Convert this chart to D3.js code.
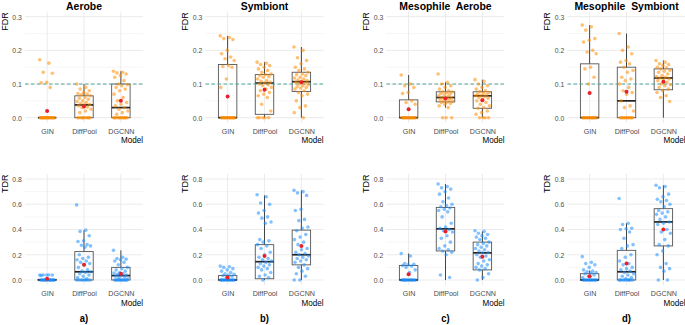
<!DOCTYPE html>
<html>
<head>
<meta charset="utf-8">
<script src="https://cdn.jsdelivr.net/npm/d3@7"></script>
<style>
  body { margin: 0; background: #fff; }
  text { font-family: "Liberation Sans", Arial, sans-serif; }
</style>
</head>
<body>
<div id="chart"></div>
<script>
const models = ['GIN', 'DiffPool', 'DGCNN'];
const titles = ['Aerobe', 'Symbiont', 'Mesophile  Aerobe', 'Mesophile  Symbiont'];
const tags = ['a)', 'b)', 'c)', 'd)'];
const fdrTicks = [0, 0.1, 0.2, 0.3];
const fdrMinor = [0.05, 0.15, 0.25];
const tdrTicks = [0, 0.2, 0.4, 0.6, 0.8];
const tdrMinor = [0.1, 0.3, 0.5, 0.7];
const fdrCut = 0.1;

// box stats: [lower whisker, q1, median, q3, upper whisker]
const fdrAerobeBox = [[0, 0, 0, 0, 0], [0, 0, 0.038, 0.065, 0.1], [0, 0, 0.03, 0.1, 0.138]];
const fdrAerobeMean = [0.02, 0.033, 0.05];
const fdrSymbiontBox = [[0, 0, 0, 0.158, 0.243], [0, 0.01, 0.103, 0.128, 0.165], [0, 0.078, 0.107, 0.135, 0.21]];
const fdrSymbiontMean = [0.063, 0.083, 0.105];
const fdrMesoAerobeBox = [[0, 0, 0, 0.053, 0.127], [0.03, 0.047, 0.06, 0.077, 0.105], [0, 0.028, 0.065, 0.077, 0.113]];
const fdrMesoAerobeMean = [0.025, 0.057, 0.052];
const fdrMesoSymbiontBox = [[0, 0, 0, 0.16, 0.275], [0, 0, 0.05, 0.15, 0.25], [0, 0.083, 0.118, 0.145, 0.17]];
const fdrMesoSymbiontMean = [0.073, 0.077, 0.107];

const tdrAerobeBox = [[0, 0, 0, 0.005, 0.005], [0, 0, 0.065, 0.225, 0.395], [0, 0, 0.035, 0.1, 0.235]];
const tdrAerobeMean = [0.01, 0.12, 0.05];
const tdrSymbiontBox = [[0, 0, 0, 0.035, 0.035], [0, 0.01, 0.145, 0.28, 0.67], [0, 0.12, 0.2, 0.395, 0.71]];
const tdrSymbiontMean = [0.02, 0.19, 0.27];
const tdrMesoAerobeBox = [[0, 0, 0, 0.115, 0.21], [0, 0.23, 0.405, 0.575, 0.76], [0, 0.08, 0.215, 0.3, 0.385]];
const tdrMesoAerobeMean = [0.045, 0.385, 0.185];
const tdrMesoSymbiontBox = [[0, 0, 0, 0.05, 0.075], [0, 0, 0.065, 0.235, 0.45], [0, 0.27, 0.46, 0.565, 0.75]];
const tdrMesoSymbiontMean = [0.03, 0.13, 0.4];

// individual runs (jittered points)
const fdrAerobeGIN = [0.172, 0.162, 0.135, 0.132, 0.105, 0.104, 0.09, 0, 0, 0, 0, 0, 0, 0, 0, 0, 0, 0, 0, 0, 0, 0, 0, 0, 0, 0, 0];
const fdrAerobeDiffPool = [0.1, 0.09, 0.085, 0.08, 0.075, 0.072, 0.07, 0.068, 0.065, 0.06, 0.058, 0.055, 0.05, 0.048, 0.045, 0.042, 0.04, 0.038, 0.035, 0.032, 0.03, 0.025, 0.02, 0.015, 0, 0, 0, 0, 0, 0, 0, 0, 0, 0];
const fdrAerobeDGCNN = [0.138, 0.135, 0.133, 0.13, 0.125, 0.12, 0.11, 0.1, 0.098, 0.095, 0.09, 0.085, 0.08, 0.07, 0.06, 0.05, 0.045, 0.04, 0.035, 0.03, 0.025, 0.02, 0.015, 0.01, 0, 0, 0, 0, 0, 0, 0, 0, 0, 0, 0, 0];

const fdrSymbiontGIN = [0.243, 0.238, 0.235, 0.232, 0.2, 0.19, 0.18, 0.175, 0.17, 0.155, 0.152, 0.15, 0.115, 0.09, 0, 0, 0, 0, 0, 0, 0, 0, 0, 0, 0, 0, 0, 0, 0, 0];
const fdrSymbiontDiffPool = [0.165, 0.162, 0.158, 0.155, 0.15, 0.145, 0.14, 0.135, 0.13, 0.128, 0.125, 0.122, 0.12, 0.115, 0.11, 0.108, 0.105, 0.103, 0.1, 0.098, 0.095, 0.09, 0.085, 0.08, 0.075, 0.07, 0.065, 0.06, 0.04, 0.02, 0, 0, 0, 0, 0];
const fdrSymbiontDGCNN = [0.21, 0.2, 0.178, 0.17, 0.16, 0.15, 0.145, 0.14, 0.135, 0.13, 0.128, 0.125, 0.12, 0.118, 0.115, 0.112, 0.11, 0.108, 0.105, 0.102, 0.1, 0.098, 0.095, 0.092, 0.09, 0.088, 0.085, 0.08, 0.075, 0.07, 0.065, 0.05, 0.035, 0.03, 0.015, 0];

const fdrMesoAerobeGIN = [0.127, 0.1, 0.095, 0.09, 0.075, 0.072, 0.05, 0.045, 0.04, 0, 0, 0, 0, 0, 0, 0, 0, 0, 0, 0, 0, 0, 0, 0, 0];
const fdrMesoAerobeDiffPool = [0.13, 0.105, 0.1, 0.095, 0.09, 0.085, 0.08, 0.078, 0.076, 0.074, 0.072, 0.07, 0.068, 0.065, 0.063, 0.06, 0.058, 0.056, 0.055, 0.053, 0.05, 0.048, 0.046, 0.045, 0.042, 0.04, 0.035, 0.03, 0, 0, 0];
const fdrMesoAerobeDGCNN = [0.113, 0.108, 0.1, 0.095, 0.09, 0.085, 0.08, 0.078, 0.075, 0.073, 0.07, 0.068, 0.066, 0.065, 0.063, 0.06, 0.058, 0.055, 0.05, 0.045, 0.04, 0.035, 0.03, 0.028, 0.02, 0.015, 0.01, 0, 0, 0, 0];

const fdrMesoSymbiontGIN = [0.275, 0.27, 0.26, 0.235, 0.23, 0.225, 0.2, 0.195, 0.19, 0.15, 0.145, 0.12, 0.1, 0, 0, 0, 0, 0, 0, 0, 0, 0, 0, 0, 0, 0, 0, 0];
const fdrMesoSymbiontDiffPool = [0.25, 0.21, 0.2, 0.19, 0.17, 0.165, 0.16, 0.15, 0.14, 0.135, 0.12, 0.115, 0.11, 0.1, 0.09, 0.08, 0.075, 0.07, 0.05, 0.035, 0.03, 0.02, 0, 0, 0, 0, 0, 0, 0, 0, 0, 0, 0, 0];
const fdrMesoSymbiontDGCNN = [0.17, 0.165, 0.16, 0.158, 0.155, 0.15, 0.148, 0.145, 0.14, 0.138, 0.135, 0.13, 0.125, 0.122, 0.12, 0.118, 0.115, 0.112, 0.11, 0.105, 0.1, 0.098, 0.095, 0.09, 0.085, 0.08, 0.075, 0.065, 0.06, 0.048];

const tdrAerobeGIN = [0.04, 0.04, 0.04, 0.04, 0.04, 0.035, 0, 0, 0, 0, 0, 0, 0, 0, 0, 0, 0, 0, 0, 0, 0, 0];
const tdrAerobeDiffPool = [0.595, 0.395, 0.385, 0.35, 0.31, 0.305, 0.28, 0.275, 0.27, 0.26, 0.2, 0.18, 0.17, 0.16, 0.15, 0.14, 0.13, 0.12, 0.1, 0.08, 0.07, 0.065, 0.06, 0.05, 0.04, 0.03, 0.02, 0.01, 0, 0, 0, 0, 0, 0, 0, 0];
const tdrAerobeDGCNN = [0.235, 0.18, 0.17, 0.165, 0.16, 0.15, 0.14, 0.12, 0.1, 0.09, 0.08, 0.07, 0.06, 0.055, 0.05, 0.045, 0.04, 0.035, 0.03, 0.025, 0.02, 0.01, 0, 0, 0, 0, 0, 0, 0, 0, 0, 0, 0, 0];

const tdrSymbiontGIN = [0.11, 0.105, 0.1, 0.09, 0.08, 0.07, 0.06, 0.05, 0.045, 0.04, 0.035, 0.03, 0.02, 0, 0, 0, 0, 0, 0, 0, 0, 0, 0, 0, 0, 0, 0];
const tdrSymbiontDiffPool = [0.675, 0.66, 0.61, 0.6, 0.55, 0.53, 0.5, 0.49, 0.46, 0.45, 0.32, 0.31, 0.3, 0.28, 0.27, 0.25, 0.22, 0.2, 0.18, 0.17, 0.16, 0.15, 0.14, 0.13, 0.12, 0.11, 0.1, 0.09, 0.08, 0.06, 0.04, 0.03, 0.02, 0];
const tdrSymbiontDGCNN = [0.71, 0.7, 0.69, 0.67, 0.56, 0.55, 0.48, 0.47, 0.42, 0.41, 0.39, 0.36, 0.34, 0.32, 0.3, 0.28, 0.25, 0.24, 0.22, 0.21, 0.2, 0.19, 0.18, 0.17, 0.16, 0.15, 0.14, 0.12, 0.1, 0.09, 0.07, 0.05, 0.03, 0, 0];

const tdrMesoAerobeGIN = [0.21, 0.19, 0.13, 0.125, 0.12, 0.115, 0.11, 0.1, 0.08, 0.06, 0, 0, 0, 0, 0, 0, 0, 0, 0, 0, 0, 0, 0, 0];
const tdrMesoAerobeDiffPool = [0.76, 0.74, 0.73, 0.72, 0.7, 0.68, 0.65, 0.62, 0.6, 0.59, 0.58, 0.57, 0.56, 0.55, 0.54, 0.5, 0.45, 0.42, 0.41, 0.4, 0.39, 0.38, 0.35, 0.33, 0.3, 0.27, 0.25, 0.24, 0.23, 0.22, 0.2, 0.04, 0.02];
const tdrMesoAerobeDGCNN = [0.39, 0.385, 0.37, 0.36, 0.35, 0.34, 0.33, 0.32, 0.3, 0.29, 0.28, 0.27, 0.26, 0.25, 0.24, 0.23, 0.22, 0.215, 0.2, 0.19, 0.18, 0.16, 0.15, 0.13, 0.12, 0.11, 0.1, 0.09, 0.08, 0.05, 0.02, 0];

const tdrMesoSymbiontGIN = [0.185, 0.14, 0.13, 0.12, 0.1, 0.08, 0.07, 0.065, 0.06, 0.055, 0.05, 0.04, 0.03, 0.02, 0, 0, 0, 0, 0, 0, 0, 0, 0, 0, 0, 0, 0];
const tdrMesoSymbiontDiffPool = [0.645, 0.45, 0.44, 0.41, 0.405, 0.4, 0.38, 0.33, 0.28, 0.27, 0.25, 0.2, 0.18, 0.15, 0.13, 0.12, 0.1, 0.09, 0.08, 0.07, 0.06, 0.05, 0.04, 0.03, 0.02, 0.01, 0, 0, 0, 0, 0, 0, 0, 0, 0, 0];
const tdrMesoSymbiontDGCNN = [0.75, 0.74, 0.73, 0.68, 0.66, 0.64, 0.63, 0.62, 0.6, 0.58, 0.55, 0.54, 0.53, 0.52, 0.5, 0.48, 0.46, 0.45, 0.44, 0.4, 0.38, 0.37, 0.32, 0.28, 0.27, 0.23, 0.2, 0.13, 0.1, 0.09, 0.07, 0, 0];

const fdrBoxes = [fdrAerobeBox, fdrSymbiontBox, fdrMesoAerobeBox, fdrMesoSymbiontBox];
const fdrMeans = [fdrAerobeMean, fdrSymbiontMean, fdrMesoAerobeMean, fdrMesoSymbiontMean];
const fdrPoints = [
  [fdrAerobeGIN, fdrAerobeDiffPool, fdrAerobeDGCNN],
  [fdrSymbiontGIN, fdrSymbiontDiffPool, fdrSymbiontDGCNN],
  [fdrMesoAerobeGIN, fdrMesoAerobeDiffPool, fdrMesoAerobeDGCNN],
  [fdrMesoSymbiontGIN, fdrMesoSymbiontDiffPool, fdrMesoSymbiontDGCNN]
];
const tdrBoxes = [tdrAerobeBox, tdrSymbiontBox, tdrMesoAerobeBox, tdrMesoSymbiontBox];
const tdrMeans = [tdrAerobeMean, tdrSymbiontMean, tdrMesoAerobeMean, tdrMesoSymbiontMean];
const tdrPoints = [
  [tdrAerobeGIN, tdrAerobeDiffPool, tdrAerobeDGCNN],
  [tdrSymbiontGIN, tdrSymbiontDiffPool, tdrSymbiontDGCNN],
  [tdrMesoAerobeGIN, tdrMesoAerobeDiffPool, tdrMesoAerobeDGCNN],
  [tdrMesoSymbiontGIN, tdrMesoSymbiontDiffPool, tdrMesoSymbiontDGCNN]
];

const svg = d3.select('#chart')
  .append('svg')
    .attr('width', 685)
    .attr('height', 325);

const lefts = [25, 205.5, 386.5, 567.5];
const plotW = 118;
const squeeze = 0.9;

// fixed horizontal jitter, spread over +-0.2 of a category step
const jit = i => ((i * 0.618034) % 1) - 0.5;

function panel(left, row) {
  const isF = row.kind === 'FDR';
  const y = d3.scaleLinear().domain([0, isF ? 0.3 : 0.8])
      .range(isF ? [117.7, 16.7] : [280, 179]);
  const lo = isF ? -0.015 : -0.04, hi = isF ? 0.315 : 0.84;
  const x = d3.scalePoint().domain(models).range([left, left + plotW]).padding(0.6);
  const g = svg.append('g');

  // grid
  g.selectAll('.minor')
    .data(row.minor)
    .join('line')
      .attr('x1', left).attr('x2', left + plotW)
      .attr('y1', d => y(d)).attr('y2', d => y(d))
      .attr('stroke', '#f4f4f4').attr('stroke-width', 0.8);
  g.selectAll('.major')
    .data(row.ticks)
    .join('line')
      .attr('x1', left).attr('x2', left + plotW)
      .attr('y1', d => y(d)).attr('y2', d => y(d))
      .attr('stroke', '#ebebeb').attr('stroke-width', 1);
  g.selectAll('.vgrid')
    .data(models)
    .join('line')
      .attr('x1', d => x(d)).attr('x2', d => x(d))
      .attr('y1', y(lo)).attr('y2', y(hi))
      .attr('stroke', '#ebebeb').attr('stroke-width', 1);

  // axes
  const ya = g.append('g')
      .attr('transform', `translate(${left},0)`)
      .call(d3.axisLeft(y).tickValues(row.ticks).tickSize(0).tickPadding(3.5).tickFormat(d3.format('.1f')));
  ya.select('.domain').remove();
  ya.selectAll('text')
      .attr('font-size', '7.6px')
      .attr('fill', '#4d4d4d')
      .attr('font-family', '"Liberation Sans", Arial, sans-serif')
      .attr('transform', `scale(${squeeze},1)`);

  const xa = g.append('g')
      .attr('transform', `translate(0,${y(lo) + 3})`)
      .call(d3.axisBottom(x).tickSize(0).tickPadding(2.5));
  xa.select('.domain').remove();
  xa.selectAll('text')
      .attr('font-size', '7.9px')
      .attr('fill', '#4d4d4d')
      .attr('font-family', '"Liberation Sans", Arial, sans-serif')
      .attr('transform', `scale(${squeeze},1)`);

  g.append('text')
      .attr('transform', `translate(${left - 17.5},${y(hi) + 0.5}) rotate(-90)`)
      .attr('text-anchor', 'end')
      .attr('font-size', '9px')
      .attr('fill', '#000')
      .text(row.kind);

  g.append('text')
      .attr('transform', `translate(${left + plotW},${y(lo) + 20.5}) scale(${squeeze},1)`)
      .attr('text-anchor', 'end')
      .attr('font-size', '9px')
      .attr('fill', '#000')
      .text('Model');

  // boxes
  const bw = x.step() * 0.5;
  const boxes = g.selectAll('.box')
    .data(row.box.map((b, i) => ({ m: models[i], b })))
    .join('g');
  boxes.append('line')
      .attr('x1', d => x(d.m)).attr('x2', d => x(d.m))
      .attr('y1', d => y(d.b[3])).attr('y2', d => y(d.b[4]))
      .attr('stroke', '#444').attr('stroke-width', 1);
  boxes.append('line')
      .attr('x1', d => x(d.m)).attr('x2', d => x(d.m))
      .attr('y1', d => y(d.b[0])).attr('y2', d => y(d.b[1]))
      .attr('stroke', '#444').attr('stroke-width', 1);
  boxes.append('rect')
      .attr('x', d => x(d.m) - bw / 2)
      .attr('width', bw)
      .attr('y', d => y(d.b[3]))
      .attr('height', d => y(d.b[1]) - y(d.b[3]))
      .attr('fill', 'none')
      .attr('stroke', '#555').attr('stroke-width', 0.9);
  boxes.append('line')
      .attr('x1', d => x(d.m) - bw / 2).attr('x2', d => x(d.m) + bw / 2)
      .attr('y1', d => y(d.b[2])).attr('y2', d => y(d.b[2]))
      .attr('stroke', '#222').attr('stroke-width', 1.7);

  if (isF) {
    g.append('line')
        .attr('x1', left).attr('x2', left + plotW)
        .attr('y1', y(fdrCut)).attr('y2', y(fdrCut))
        .attr('stroke', '#4fa89a').attr('stroke-width', 1)
        .attr('stroke-dasharray', '3.5,2.5');
  }

  // runs
  const pts = row.points.flatMap((vals, k) => vals.map((v, i) => ({ m: models[k], v, i })));
  g.selectAll('.pt')
    .data(pts)
    .join('circle')
      .attr('cx', d => x(d.m) + jit(d.i) * 0.4 * x.step())
      .attr('cy', d => y(d.v))
      .attr('r', 1.8)
      .attr('fill', row.color)
      .attr('fill-opacity', 0.55);

  // means
  g.selectAll('.mean')
    .data(row.mean.map((v, i) => ({ m: models[i], v })))
    .join('circle')
      .attr('cx', d => x(d.m))
      .attr('cy', d => y(d.v))
      .attr('r', 2)
      .attr('fill', '#e8202a');

  return x;
}

lefts.forEach((left, p) => {
  const x = panel(left, {
    kind: 'FDR', ticks: fdrTicks, minor: fdrMinor,
    box: fdrBoxes[p], mean: fdrMeans[p], points: fdrPoints[p], color: '#ff8c00'
  });
  panel(left, {
    kind: 'TDR', ticks: tdrTicks, minor: tdrMinor,
    box: tdrBoxes[p], mean: tdrMeans[p], points: tdrPoints[p], color: '#1e90ff'
  });

  svg.append('text')
      .attr('transform', `translate(${x('DiffPool')},10) scale(${squeeze},1)`)
      .attr('text-anchor', 'middle')
      .attr('font-size', '11.6px')
      .attr('font-weight', 'bold')
      .style('white-space', 'pre')
      .text(titles[p]);

  svg.append('text')
      .attr('transform', `translate(${x('DiffPool')},322) scale(${squeeze},1)`)
      .attr('text-anchor', 'middle')
      .attr('font-size', '10.5px')
      .attr('font-weight', 'bold')
      .text(tags[p]);
});
</script>
</body>
</html>
